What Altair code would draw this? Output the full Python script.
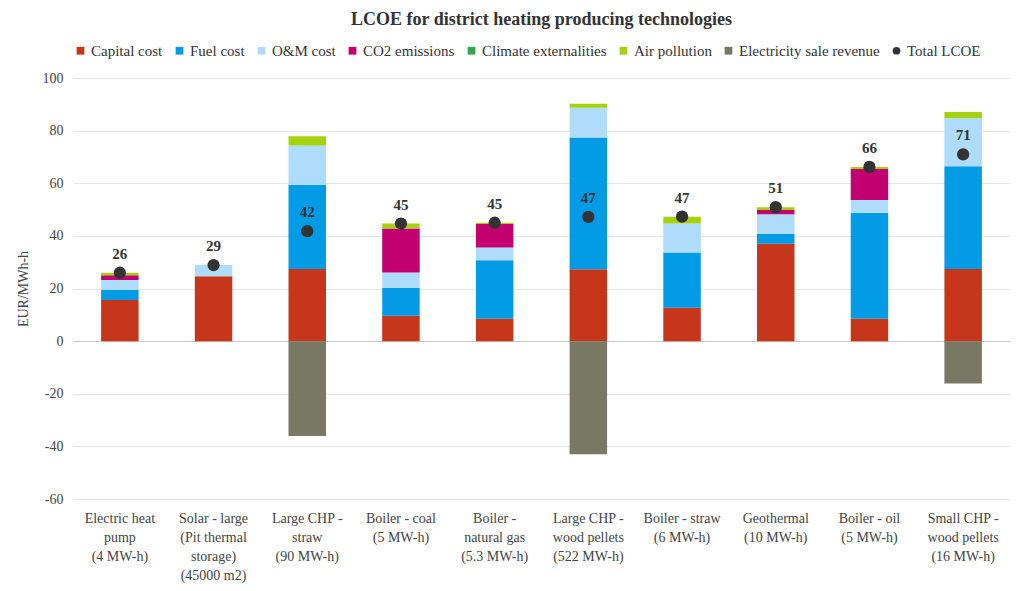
import altair as alt
import pandas as pd

categories = [
    "Electric heat|pump|(4 MW-h)",
    "Solar - large|(Pit thermal|storage)|(45000 m2)",
    "Large CHP -|straw|(90 MW-h)",
    "Boiler - coal|(5 MW-h)",
    "Boiler -|natural gas|(5.3 MW-h)",
    "Large CHP -|wood pellets|(522 MW-h)",
    "Boiler - straw|(6 MW-h)",
    "Geothermal|(10 MW-h)",
    "Boiler - oil|(5 MW-h)",
    "Small CHP -|wood pellets|(16 MW-h)",
]
series_names = ["Capital cost", "Fuel cost", "O&M cost", "CO2 emissions",
                "Climate externalities", "Air pollution", "Electricity sale revenue"]
capital_cost = [15.6, 24.7, 27.4, 9.6, 8.5, 27.3, 12.7, 37.0, 8.5, 27.4]
fuel_cost = [3.8, 0.0, 32.0, 10.6, 22.2, 50.1, 21.0, 3.7, 40.3, 39.1]
om_cost = [3.8, 4.2, 14.9, 5.9, 4.9, 11.3, 11.0, 7.5, 4.8, 18.2]
co2_emissions = [1.8, 0.0, 0.0, 16.7, 8.9, 0.0, 0.0, 1.6, 11.8, 0.0]
climate_externalities = [0.0] * 10
air_pollution = [1.0, 0.0, 3.6, 1.9, 0.5, 1.5, 2.6, 1.1, 0.8, 2.4]
electricity_revenue = [0.0, 0.0, -36.1, 0.0, 0.0, -43.0, 0.0, 0.0, 0.0, -16.1]
total_lcoe = [26.0, 28.9, 41.8, 44.7, 45.0, 47.2, 47.3, 50.9, 66.2, 71.0]
total_labels = ["26", "29", "42", "45", "45", "47", "47", "51", "66", "71"]
y_ticks = [-60, -40, -20, 0, 20, 40, 60, 80, 100]

legend_names = series_names + ["Total LCOE"]
legend_colors = ["#C5361A", "#039BE5", "#AEDCFA", "#C2006F", "#2EAA4A", "#A5D10F", "#787864", "#333333"]
legend_shapes = ["square"] * 7 + ["circle"]

series_values = [capital_cost, fuel_cost, om_cost, co2_emissions,
                 climate_externalities, air_pollution, electricity_revenue]
rows = []
for si, (name, vals) in enumerate(zip(series_names, series_values)):
    for ci, cat in enumerate(categories):
        if vals[ci] != 0:
            rows.append({"cat": cat, "series": name, "value": vals[ci], "idx": si})
bars_df = pd.DataFrame(rows)
tot_df = pd.DataFrame({"cat": categories, "value": total_lcoe, "label": total_labels,
                       "series": ["Total LCOE"] * len(categories)})

FONT = "Liberation Serif"
legend = alt.Legend(title=None, orient="top", direction="horizontal", columns=8)
color = alt.Color("series:N", scale=alt.Scale(domain=legend_names, range=legend_colors), legend=legend)
shape = alt.Shape("series:N", scale=alt.Scale(domain=legend_names, range=legend_shapes), legend=legend)

x = alt.X("cat:N", sort=categories,
          scale=alt.Scale(paddingInner=0.6, paddingOuter=0.3),
          axis=alt.Axis(title=None, labelExpr="split(datum.label, '|')", labelAngle=0,
                        ticks=False, domain=False, labelPadding=12,
                        labelLineHeight=19, labelBaseline="top", grid=False))
y_axis = alt.Axis(values=y_ticks, title="EUR/MWh-h", labelExpr="'' + datum.value",
                  ticks=False, domain=False, labelPadding=10, titlePadding=12,
                  gridColor=alt.condition("datum.value === 0", alt.value("#c8c8c8"), alt.value("#e6e6e6")))

bars = alt.Chart(bars_df).mark_bar().encode(
    x=x,
    y=alt.Y("value:Q", stack="zero", scale=alt.Scale(domain=[-60, 100]), axis=y_axis),
    color=color,
    order=alt.Order("idx:Q", sort="ascending"),
)
points = alt.Chart(tot_df).mark_point(filled=True, size=150, opacity=1).encode(
    x=alt.X("cat:N", sort=categories),
    y=alt.Y("value:Q"),
    color=color,
    shape=shape,
)
labels = alt.Chart(tot_df).mark_text(font=FONT, fontSize=15, fontWeight="bold",
                                     color="#333", dy=-19).encode(
    x=alt.X("cat:N", sort=categories),
    y=alt.Y("value:Q"),
    text="label:N",
)

chart = alt.layer(bars, points, labels).properties(
    width=937, height=421,
    title=alt.TitleParams("LCOE for district heating producing technologies", font=FONT,
                          fontSize=18, fontWeight="bold", color="#333", offset=14),
).configure(
    font=FONT, padding={"left": 8, "top": 3, "right": 3, "bottom": 3}
).configure_view(stroke=None).configure_axis(
    labelFont=FONT, labelFontSize=14, labelColor="#444",
    titleFont=FONT, titleFontSize=14, titleFontWeight="normal", titleColor="#444",
).configure_legend(
    labelFont=FONT, labelFontSize=15, labelColor="#333",
    symbolSize=60, symbolStrokeWidth=0, columnPadding=9, symbolOffset=0,
    offset=19, labelOffset=3,
).configure_text(font=FONT)

chart.save("out.html", embed_options={"renderer": "svg", "actions": False})
